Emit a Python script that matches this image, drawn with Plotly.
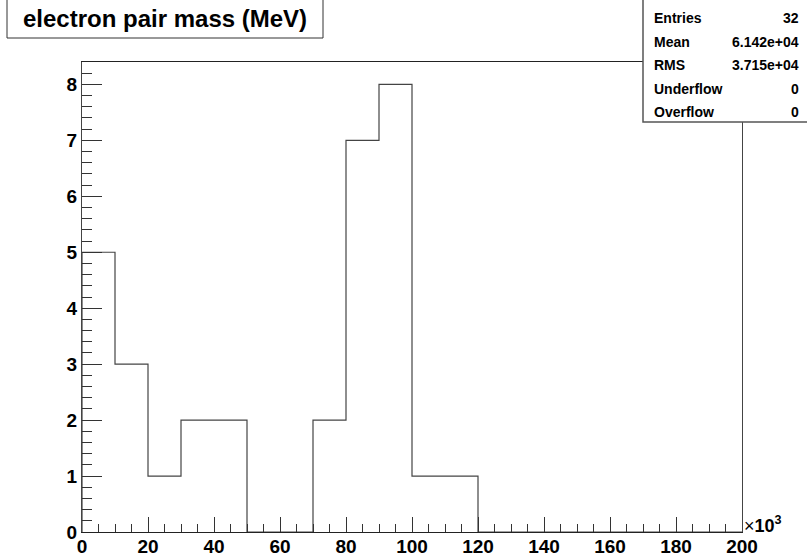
import plotly.graph_objects as go

# ---- data ----
bin_edges = [i * 10000 for i in range(21)]  # MeV
counts = [5, 3, 1, 2, 2, 0, 0, 2, 7, 8, 1, 1, 0, 0, 0, 0, 0, 0, 0, 0]
x_tick_vals = [0, 20000, 40000, 60000, 80000, 100000, 120000, 140000, 160000, 180000, 200000]
x_tick_text = ["0", "20", "40", "60", "80", "100", "120", "140", "160", "180", "200"]
y_tick_vals = [0, 1, 2, 3, 4, 5, 6, 7, 8]
title_text = "electron pair mass (MeV)"
stat_labels = ["Entries", "Mean", "RMS", "Underflow", "Overflow"]
stat_values = ["32", "6.142e+04", "3.715e+04", "0", "0"]

W, H = 807, 557
L, R, T, B = 82, 65, 62, 25
pw, ph = W - L - R, H - T - B


def px(xp):
    return (xp - L) / pw


def py(yp):
    return (H - B - yp) / ph


xs = [bin_edges[0]] + bin_edges
ys = [0] + counts + [counts[-1]]

fig = go.Figure()
fig.add_trace(go.Scatter(
    x=xs, y=ys, mode="lines", line=dict(shape="hv", color="#444444", width=1.2),
    hoverinfo="skip", showlegend=False,
))

font_main = "Liberation Sans, Arial, sans-serif"

fig.update_layout(
    width=W, height=H,
    margin=dict(l=L, r=R, t=T, b=B, pad=0, autoexpand=False),
    paper_bgcolor="white", plot_bgcolor="white",
    showlegend=False,
    xaxis=dict(
        range=[0, 200000], showgrid=False, zeroline=False, automargin=False,
        showline=True, linecolor="#222222", linewidth=1.2, mirror=True,
        ticks="inside", ticklen=15, tickcolor="#333333", tickwidth=1,
        tickmode="array", tickvals=x_tick_vals, ticktext=x_tick_text,
        ticklabelstandoff=-3,
        tickfont=dict(family=font_main, size=19, color="black", weight="bold"),
        minor=dict(dtick=5000, tick0=0, ticks="inside", ticklen=8, tickcolor="#333333", tickwidth=1),
    ),
    yaxis=dict(
        range=[0, 8.4], showgrid=False, zeroline=False, automargin=False,
        showline=True, linecolor="#444444", linewidth=1.2, mirror=True,
        ticks="inside", ticklen=20, tickcolor="#333333", tickwidth=1,
        tickmode="array", tickvals=y_tick_vals,
        tickfont=dict(family=font_main, size=19, color="black", weight="bold"),
        minor=dict(dtick=0.2, tick0=0, ticks="inside", ticklen=10, tickcolor="#333333", tickwidth=1),
    ),
)

shapes = []
# title box
shapes.append(dict(type="rect", xref="paper", yref="paper",
                   x0=px(7), x1=px(323), y0=py(38), y1=py(-3),
                   line=dict(color="#333333", width=1), fillcolor="white", layer="above"))
# stats box
shapes.append(dict(type="rect", xref="paper", yref="paper",
                   x0=px(643), x1=px(809), y0=py(122), y1=py(-3),
                   line=dict(color="#555555", width=1.5), fillcolor="white", layer="above"))
fig.update_layout(shapes=shapes)

ann = []
ann.append(dict(xref="paper", yref="paper", x=px(165), y=py(19), xanchor="center", yanchor="middle",
                text="<b>" + title_text + "</b>", showarrow=False,
                font=dict(family=font_main, size=24, color="black")))
row_y = [18, 42, 65.5, 89, 112]
for lab, val, yy in zip(stat_labels, stat_values, row_y):
    ann.append(dict(xref="paper", yref="paper", x=px(652), y=py(yy), xanchor="left", yanchor="middle",
                    text="<b>" + lab + "</b>", showarrow=False,
                    font=dict(family=font_main, size=14, color="black")))
    ann.append(dict(xref="paper", yref="paper", x=px(801), y=py(yy), xanchor="right", yanchor="middle",
                    text="<b>" + val + "</b>", showarrow=False,
                    font=dict(family=font_main, size=14, color="black")))
ann.append(dict(xref="paper", yref="paper", x=px(742), y=py(538), xanchor="left", yanchor="bottom",
                text="×<b>10<sup>3</sup></b>", showarrow=False,
                font=dict(family=font_main, size=18, color="black")))
fig.update_layout(annotations=ann)

fig.write_html("out.html",
               config={"displayModeBar": False},
               post_script="document.body.style.margin='0';document.body.style.padding='0';"
                           "document.documentElement.style.overflow='hidden';")
